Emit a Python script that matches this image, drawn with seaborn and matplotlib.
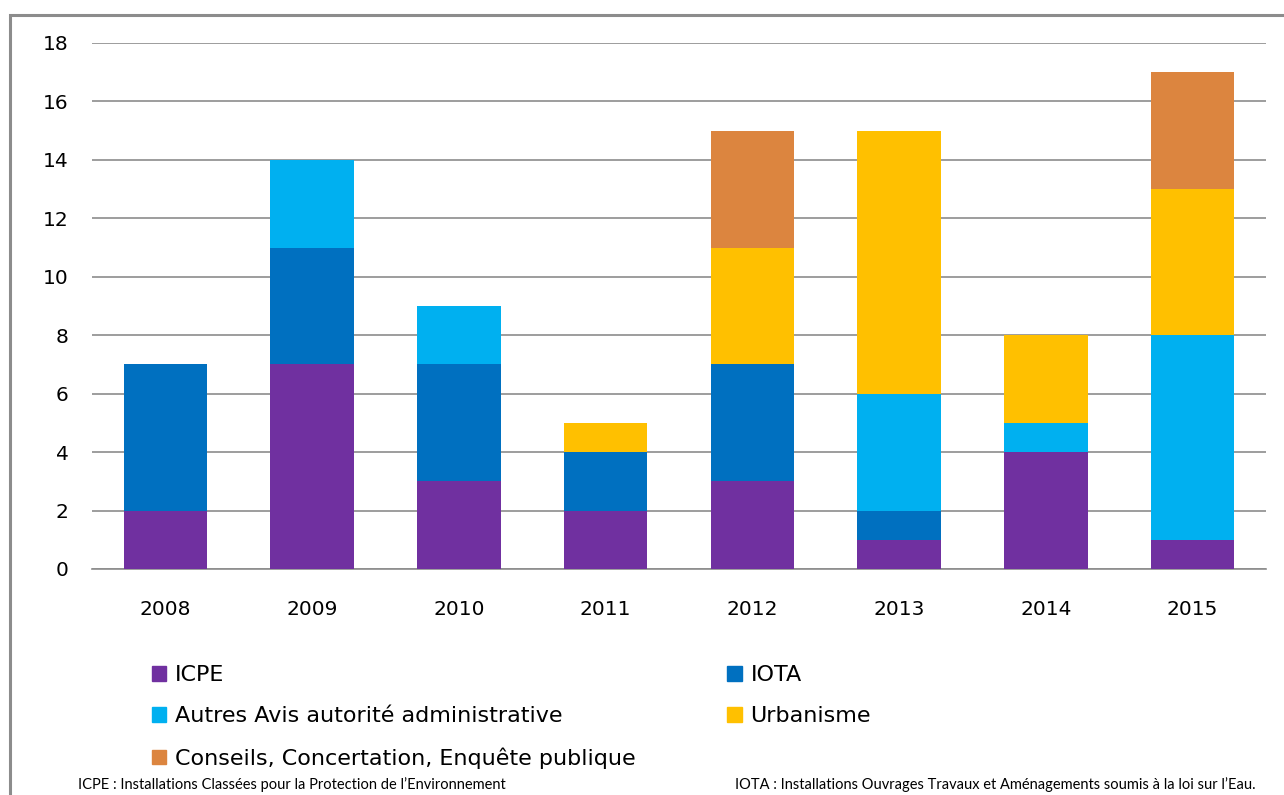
import numpy as np
import pandas as pd
import matplotlib
matplotlib.use("Agg")
import matplotlib.pyplot as plt
import matplotlib.patches as mpatches
import seaborn as sns

years = ["2008", "2009", "2010", "2011", "2012", "2013", "2014", "2015"]
icpe = [2, 7, 3, 2, 3, 1, 4, 1]
iota = [5, 4, 4, 2, 4, 1, 0, 0]
autres = [0, 3, 2, 0, 0, 4, 1, 7]
urbanisme = [0, 0, 0, 1, 4, 9, 3, 5]
conseils = [0, 0, 0, 0, 4, 0, 0, 4]

series_names = ["ICPE", "IOTA", "Autres Avis autorité administrative",
                "Urbanisme", "Conseils, Concertation, Enquête publique"]
series_vals = [icpe, iota, autres, urbanisme, conseils]
colors = ["#7030A0", "#0070C0", "#00B0F0", "#FFC000", "#DC853F"]

sns.set_theme(style="white")
plt.rcParams["font.family"] = ["DejaVu Sans"]
plt.rcParams["text.color"] = "black"

fig = plt.figure(figsize=(12.84, 7.95), dpi=100)
ax = fig.add_axes([92 / 1284, 1 - 569 / 795, (1266 - 92) / 1284, (569 - 43) / 795])

cum = np.cumsum(np.array(series_vals), axis=0)
df = pd.DataFrame({"year": years})
# draw cumulative totals from the top series down (stacked effect)
for i in range(len(series_names) - 1, -1, -1):
    df["v"] = cum[i]
    sns.barplot(data=df, x="year", y="v", color=colors[i], width=0.57,
                saturation=1, ax=ax, zorder=3, linewidth=0, order=years)

ax.set_ylim(0, 18)
ax.set_xlim(-0.5, 7.5)
ax.set_yticks(range(0, 19, 2))
ax.yaxis.grid(True, color="#8C8C8C", linewidth=1.2, zorder=0)
ax.xaxis.grid(False)
ax.set_axisbelow(True)
for s in ["top", "right", "left"]:
    ax.spines[s].set_visible(False)
ax.spines["bottom"].set_visible(True)
ax.spines["bottom"].set_color("#8C8C8C")
ax.spines["bottom"].set_linewidth(1.2)
ax.set_xlabel("")
ax.set_ylabel("")
ax.tick_params(axis="y", length=0, pad=17, labelsize=14.5, labelcolor="black")
ax.tick_params(axis="x", length=0, pad=22, labelsize=14.5, labelcolor="black")

# legend
handles = [mpatches.Patch(color=colors[i], label=series_names[i]) for i in [0, 2, 4, 1, 3]]
fig.legend(handles=handles, loc="upper left", bbox_to_anchor=(152 / 1284, 1 - 665 / 795),
           ncol=2, frameon=False, prop={"family": "DejaVu Sans", "size": 16},
           labelcolor="black",
           handlelength=0.65, handleheight=0.65, handletextpad=0.4,
           columnspacing=4.1, labelspacing=0.95, borderpad=0, borderaxespad=0)

fig.text(78 / 1284, 1 - 785 / 795,
         "ICPE : Installations Classées pour la Protection de l\u2019Environnement",
         family="Lato", fontsize=10.5, va="center", ha="left", color="black")
fig.text(1256 / 1284, 1 - 785 / 795,
         "IOTA : Installations Ouvrages Travaux et Aménagements soumis à la loi sur l\u2019Eau.",
         family="Lato", fontsize=10.5, va="center", ha="right", color="black")

# outer frame (top and left edges visible)
frame = mpatches.Rectangle((10 / 1284, -0.2), 1.2, 1.2 - 15 / 795,
                           transform=fig.transFigure, fill=False,
                           edgecolor="#8C8C8C", linewidth=2.2)
fig.add_artist(frame)

fig.savefig("out.png", dpi=100)
